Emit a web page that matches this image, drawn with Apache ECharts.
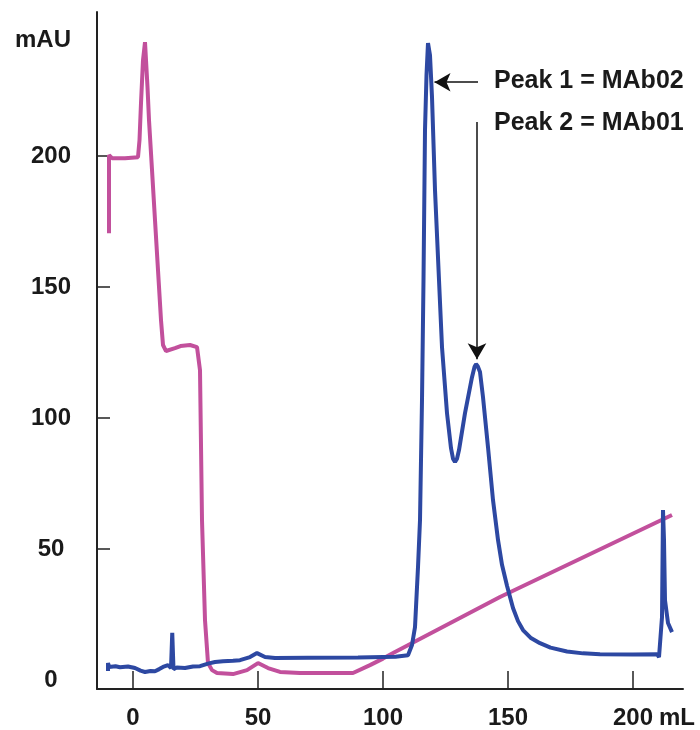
<!DOCTYPE html>
<html>
<head>
<meta charset="utf-8">
<script src="https://cdn.jsdelivr.net/npm/echarts@6/dist/echarts.min.js"></script>
<style>
  html, body { margin: 0; padding: 0; background: #fff; }
  #main { width: 700px; height: 730px; }
</style>
</head>
<body>
<div id="main"></div>
<script>
var chartDom = document.getElementById('main');
var myChart = echarts.init(chartDom);

// x ticks (mL) and y ticks (mAU)
const xTicks = [0, 50, 100, 150, 200];
const yTicks = [50, 100, 150, 200];
const yLabels = [0, 50, 100, 150, 200];

// pink trace
const pinkMl = [-9.6, -9.6, -8.4, -3.2, 2.0, 2.6, 3.2, 4.0, 4.8, 5.8, 6.4, 7.6, 8.8, 10.0, 11.2, 12.0, 13.2,
    16.8, 19.0, 22.8, 25.6, 26.8, 27.6, 28.8, 30.0, 31.6, 33.6, 40.0, 45.6, 50.0, 54.0, 58.8, 66.8, 88.0,
    94.8, 100.0, 104.8, 146.8, 215.6];
const pinkMau = [170.6, 200.4, 199.2, 199.2, 199.6, 206.1, 220.2, 236.6, 243.5, 226.3, 213.7, 194.7, 175.6,
    156.5, 137.4, 127.9, 125.6, 126.7, 127.5, 127.9, 127.1, 118.3, 61.0, 22.9, 6.5, 3.8, 2.7, 2.3, 3.8, 6.5,
    4.6, 3.1, 2.7, 2.7, 5.7, 8.2, 10.7, 31.7, 63.0];

// blue trace
const blueMl = [-10, -10, -9.6, -7, -5.2, -2, 0.8, 3, 4.8, 7, 8.8, 10.5, 12, 14, 15.2, 15.7, 16.2, 17.5,
    20.8, 24, 26.8, 30, 32.8, 36, 40, 42.8, 46.8, 49.6, 52.8, 56.8, 70, 90, 105, 110, 111.6, 112.8, 114,
    114.8, 115.6, 116.2, 116.8, 117.4, 118, 118.8, 119.6, 120.8, 122.4, 123.6, 125.6, 127.2, 128.0, 128.8,
    129.6, 130.4, 132.8, 135.6, 136.6, 137.2, 137.9, 138.8, 140, 142, 144, 146, 147.6, 149.6, 152, 154,
    156, 159, 162.8, 167, 173.6, 180, 186.8, 200, 209.6, 210.4, 211.6, 212, 212.4, 212.8, 214, 215.6];
const blueMau = [3.5, 6.5, 5.0, 5.3, 4.9, 5.2, 4.6, 3.6, 3.1, 3.5, 3.4, 4.2, 5.0, 5.7, 4.6, 18.0, 4.2, 4.8,
    4.6, 5.2, 5.3, 6.3, 6.9, 7.2, 7.4, 7.6, 8.8, 10.3, 8.8, 8.4, 8.5, 8.6, 8.9, 9.5, 13.4, 20.2, 43.1,
    61.0, 106.9, 152.7, 210.0, 230.9, 243.1, 238.5, 222.5, 187.0, 152.7, 127.1, 101.9, 88.5, 84.5, 83.2,
    84.5, 87.8, 101.9, 115.6, 119.5, 120.6, 119.8, 117.6, 108.0, 88.9, 68.7, 53.5, 44.0, 36.0, 27.5, 22.5,
    19.1, 16.2, 14.1, 12.4, 10.9, 10.2, 9.9, 9.8, 9.9, 8.8, 24.0, 64.9, 53.4, 30.5, 21.8, 18.3];

const pinkData = pinkMl.map((x, i) => [x, pinkMau[i]]);
const blueData = blueMl.map((x, i) => [x, blueMau[i]]);

const font = 'Liberation Sans, Arial, sans-serif';
const ink = '#1a1a1a';

var option = {
    backgroundColor: '#fff',
    animation: false,
    grid: {
        left: 97,
        right: 17,
        top: 12,
        bottom: 41
    },
    xAxis: {
        type: 'value',
        min: -14.4,
        max: 220,
        name: 'mL',
        nameLocation: 'end',
        nameGap: -25,
        nameTextStyle: {
            color: ink, fontFamily: font, fontWeight: 'bold', fontSize: 24,
            align: 'left', verticalAlign: 'top', padding: [17, 0, 0, 0]
        },
        splitLine: { show: false },
        axisLine: { onZero: false, lineStyle: { color: '#222', width: 2 } },
        axisTick: {
            inside: true, length: 18, customValues: xTicks,
            lineStyle: { color: '#222', width: 1.5 }
        },
        axisLabel: {
            customValues: xTicks,
            margin: 17,
            color: ink, fontFamily: font, fontWeight: 'bold', fontSize: 24
        }
    },
    yAxis: {
        type: 'value',
        min: -3.4,
        max: 255,
        name: 'mAU',
        nameLocation: 'end',
        nameGap: -28,
        nameTextStyle: {
            color: ink, fontFamily: font, fontWeight: 'bold', fontSize: 24,
            align: 'right', verticalAlign: 'middle', padding: [0, 26, 0, 0]
        },
        splitLine: { show: false },
        axisLine: { onZero: false, lineStyle: { color: '#222', width: 2 } },
        axisTick: {
            inside: true, length: 13, customValues: yTicks,
            lineStyle: { color: '#222', width: 1.5 }
        },
        axisLabel: {
            customValues: yLabels,
            align: 'center',
            margin: 46,
            color: ink, fontFamily: font, fontWeight: 'bold', fontSize: 24
        }
    },
    series: [
        {
            name: 'conductivity',
            type: 'line',
            data: pinkData,
            showSymbol: false,
            lineStyle: { color: '#c2509c', width: 4 },
            z: 2
        },
        {
            name: 'UV',
            type: 'line',
            data: blueData,
            showSymbol: false,
            lineStyle: { color: '#2d48a2', width: 4 },
            z: 3,
            markLine: {
                silent: true,
                symbol: ['none', 'arrow'],
                symbolSize: [14, 16],
                label: { show: false },
                lineStyle: { color: '#111', width: 1.5, type: 'solid' },
                data: [
                    [{ coord: [138, 228.2] }, { coord: [120.6, 228.2] }],
                    [{ coord: [137.6, 213] }, { coord: [137.6, 122.5] }]
                ]
            }
        }
    ],
    graphic: [
        {
            type: 'text', left: 494, top: 69,
            style: { text: 'Peak 1 = MAb02', fill: ink, font: 'bold 25px ' + font }
        },
        {
            type: 'text', left: 494, top: 111,
            style: { text: 'Peak 2 = MAb01', fill: ink, font: 'bold 25px ' + font }
        }
    ]
};

myChart.setOption(option);
</script>
</body>
</html>
